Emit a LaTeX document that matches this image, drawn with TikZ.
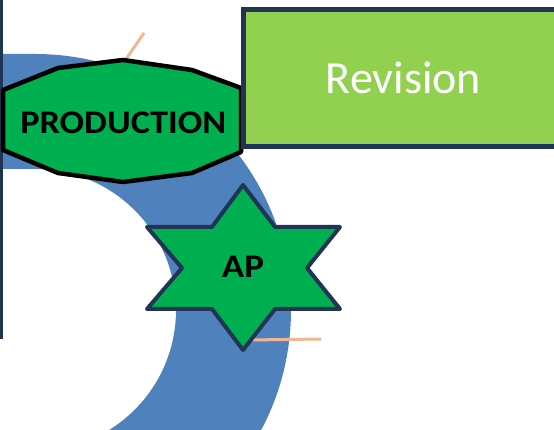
\documentclass[tikz,border=0pt]{standalone}
\usepackage{graphicx}
\usepackage{fontspec}
\setmainfont{Carlito}
\definecolor{ringblue}{HTML}{4F81BD}
\definecolor{shapegreen}{HTML}{00B050}
\definecolor{lightgreen}{HTML}{92D050}
\definecolor{navy}{HTML}{1F3553}
\definecolor{salmon}{HTML}{F0B795}
\tikzset{
  ring/.style={fill=ringblue, draw=none},
  link/.style={draw=salmon, line width=3pt},
  octa/.style={fill=shapegreen, draw=black, line width=4.5pt, line join=round},
  starshape/.style={fill=shapegreen, draw=navy, line width=4pt, line join=round},
  revbox/.style={fill=lightgreen, draw=navy, line width=5pt},
  boldlabel/.style={font=\bfseries\fontsize{33}{36}\selectfont, text=black, inner sep=0pt, anchor=base},
  revlabel/.style={font=\fontsize{46}{50}\selectfont, text=white, inner sep=0pt, anchor=base}
}
\begin{document}
\begin{tikzpicture}[x=1pt,y=1pt]
\useasboundingbox (0,0) rectangle (554,430);
\begin{scope}
\clip (0,0) rectangle (554,430);
% blue band
\path[ring] (-5,376) -- (35,376) arc[start angle=90, end angle=-90, radius=256]
  -- (35,-21) arc[start angle=-90, end angle=90, radius=141] -- (-5,261) -- cycle;
% dark edge at left
\draw[navy, line width=3pt] (1.5,432) -- (1.5,91);
% connector stubs
\coordinate (c1) at (144,397);
\coordinate (c2) at (321,91);
\coordinate (p1) at (124,368);
\coordinate (s1) at (250,90);
\draw[link] (p1) -- (c1);
\draw[link] (s1) -- (c2);
% production decagon
\draw[octa] (123,370) -- (192,360) -- (241,342) -- (241,278) -- (192,257)
  -- (123,248) -- (58,257) -- (3,280) -- (3,340) -- (58,362) -- cycle;
\node[boldlabel] (prod) at (123.3,296.7) {\scalebox{1.1}[1]{PRODUCTION}};
% revision box
\draw[revbox] (243,420) rectangle (600,283);
\node[revlabel] (rev) at (403.5,336.7) {Revision};
% AP star
\draw[starshape] (243,245) -- (275,203) -- (340,203) -- (307,162) -- (340,121)
  -- (275,121) -- (243,80) -- (212,121) -- (147,121) -- (182,162) -- (147,203)
  -- (212,203) -- cycle;
\node[boldlabel] (ap) at (243,152) {\scalebox{1.12}[1]{AP}};
\end{scope}
\end{tikzpicture}
\end{document}
